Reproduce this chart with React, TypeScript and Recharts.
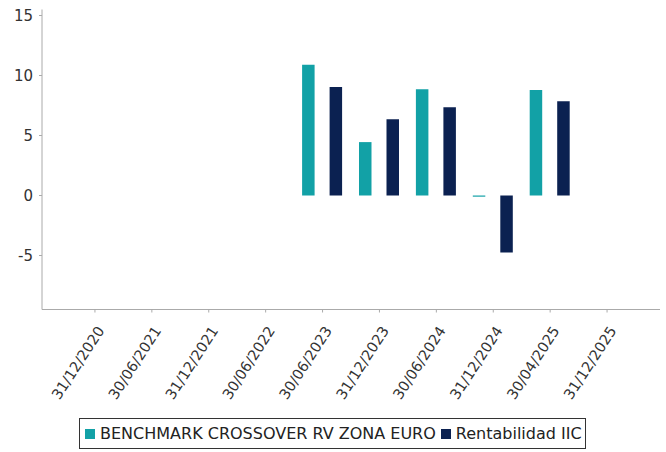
import { BarChart, Bar, XAxis, YAxis, Legend } from "recharts";

const categories = [
  "31/12/2020", "30/06/2021", "31/12/2021", "30/06/2022", "30/06/2023",
  "31/12/2023", "30/06/2024", "31/12/2024", "30/04/2025", "31/12/2025",
];
const benchmark = [null, null, null, null, 10.9, 4.45, 8.85, -0.1, 8.8, null];
const iic = [null, null, null, null, 9.05, 6.35, 7.35, -4.75, 7.85, null];
const yTicks = [-5, 0, 5, 10, 15];

const TEAL = "#12A1A6";
const NAVY = "#0B2151";
const FONT = "'DejaVu Sans', sans-serif";

const data = categories.map((date, i) => ({ date, benchmark: benchmark[i], iic: iic[i] }));

const DateTick = ({ x, y, payload }: any) => (
  <g transform={`translate(${x + 10},${y + 16}) rotate(-57)`}>
    <text x={0} y={0} textAnchor="end" fontSize={14.5} fill="#333" fontFamily={FONT}>
      {payload.value}
    </text>
  </g>
);

const LegendBox = () => (
  <div
    style={{
      display: "inline-flex", alignItems: "center", border: "1.5px solid #333",
      padding: "5px 3px 5px 5px", fontFamily: FONT, fontSize: 16, color: "#222",
      background: "#fff", whiteSpace: "nowrap",
    }}
  >
    <span style={{ width: 10, height: 10, background: TEAL, marginRight: 5 }} />
    <span style={{ marginRight: 5 }}>BENCHMARK CROSSOVER RV ZONA EURO</span>
    <span style={{ width: 10, height: 10, background: NAVY, marginRight: 5 }} />
    <span>Rentabilidad IIC</span>
  </div>
);

export default function App() {
  return (
    <div style={{ position: "absolute", left: 0, top: 0, background: "#fff" }}>
      <BarChart
        width={666}
        height={452}
        data={data}
        margin={{ top: 9.5, right: 6, left: 0, bottom: 0 }}
        barSize={12.5}
        barGap={15}
      >
        <XAxis
          dataKey="date"
          height={142.5}
          interval={0}
          padding={{ left: 24.5, right: 24.5 }}
          stroke="#aaa"
          tickSize={3}
          tick={<DateTick />}
        />
        <YAxis
          width={42}
          domain={[-9.5, 15.5]}
          ticks={yTicks}
          stroke="#aaa"
          tickSize={3}
          tickMargin={6}
          tick={{ fontSize: 15, fill: "#333", fontFamily: FONT }}
        />
        <Legend
          layout="vertical"
          align="center"
          verticalAlign="middle"
          wrapperStyle={{ left: 79, top: 418, width: "auto" }}
          content={<LegendBox />}
        />
        <Bar dataKey="benchmark" fill={TEAL} isAnimationActive={false} />
        <Bar dataKey="iic" fill={NAVY} isAnimationActive={false} />
      </BarChart>
    </div>
  );
}
